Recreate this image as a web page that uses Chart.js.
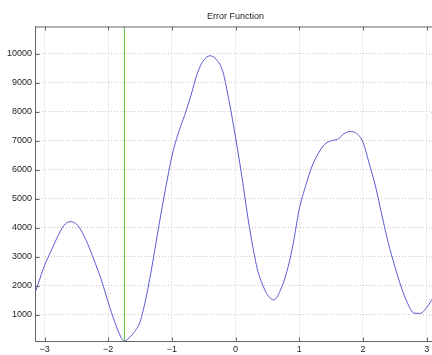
<!DOCTYPE html>
<html>
<head>
<meta charset="utf-8">
<script src="https://cdn.jsdelivr.net/npm/chart.js@4"></script>
<style>
  html, body { margin: 0; padding: 0; background: #fff; overflow: hidden; }
  #wrap { width: 432px; height: 355px; overflow: hidden; position: relative; }
  canvas { position: absolute; left: 0; top: 0; }
</style>
</head>
<body>
<div id="wrap"><canvas id="c" width="440" height="355"></canvas></div>
<script>
// ---- data ----
const xValues = [-3.1416, -3.1, -3.0, -2.9, -2.8, -2.7, -2.6, -2.5, -2.4, -2.3, -2.2, -2.1, -2.0, -1.9, -1.8, -1.75, -1.7, -1.6, -1.5, -1.4, -1.3, -1.2, -1.1, -1.0, -0.9, -0.8, -0.7, -0.6, -0.5, -0.4, -0.3, -0.2, -0.1, 0.0, 0.1, 0.2, 0.3, 0.35, 0.4, 0.45, 0.5, 0.6, 0.7, 0.8, 0.9, 1.0, 1.1, 1.2, 1.3, 1.4, 1.5, 1.6, 1.7, 1.8, 1.9, 2.0, 2.1, 2.2, 2.3, 2.4, 2.5, 2.6, 2.7, 2.8, 2.9, 3.0, 3.1, 3.1416];
const errorValues = [1800, 2070, 2700, 3190, 3670, 4070, 4210, 4130, 3810, 3330, 2760, 2150, 1430, 770, 230, 95, 150, 380, 760, 1650, 2830, 4130, 5350, 6470, 7260, 7880, 8570, 9330, 9780, 9930, 9800, 9380, 8350, 7100, 5750, 4250, 3000, 2500, 2170, 1900, 1690, 1510, 1830, 2450, 3400, 4650, 5450, 6120, 6570, 6880, 7000, 7050, 7240, 7320, 7250, 6950, 6200, 5400, 4400, 3460, 2670, 1960, 1400, 1060, 1050, 1250, 1580, 1700];
const markerX = -1.745;
const xTickValues = [-3, -2, -1, 0, 1, 2, 3];
const yTickValues = [1000, 2000, 3000, 4000, 5000, 6000, 7000, 8000, 9000, 10000];
const xRange = [-Math.PI, Math.PI];
const yRange = [80, 10940];
const chartTitle = 'Error Function';

const curve = xValues.map((x, i) => ({ x: x, y: errorValues[i] }));
const marker = [{ x: markerX, y: yRange[0] }, { x: markerX, y: yRange[1] }];

const FONT = { family: '"Liberation Sans", Arial, Helvetica, sans-serif', size: 9 };
const AXIS_COLOR = '#666666';

// frame: top border and inward tick marks, as MATLAB draws them
const framePlugin = {
  id: 'frame',
  afterDraw(chart) {
    const { ctx, chartArea: a, scales } = chart;
    ctx.save();
    ctx.strokeStyle = AXIS_COLOR;
    ctx.lineWidth = 1;
    ctx.beginPath();
    ctx.moveTo(a.left, a.top + 0.5);
    ctx.lineTo(a.right, a.top + 0.5);
    ctx.moveTo(a.right - 0.5, a.top);
    ctx.lineTo(a.right - 0.5, a.bottom);
    const tl = 4;
    scales.x.ticks.forEach(t => {
      const px = Math.round(scales.x.getPixelForValue(t.value)) + 0.5;
      ctx.moveTo(px, a.bottom); ctx.lineTo(px, a.bottom - tl);
      ctx.moveTo(px, a.top); ctx.lineTo(px, a.top + tl);
    });
    scales.y.ticks.forEach(t => {
      const py = Math.round(scales.y.getPixelForValue(t.value)) + 0.5;
      ctx.moveTo(a.left, py); ctx.lineTo(a.left + tl, py);
      ctx.moveTo(a.right, py); ctx.lineTo(a.right - tl, py);
    });
    ctx.stroke();
    ctx.restore();
  }
};

new Chart(document.getElementById('c'), {
  type: 'line',
  data: {
    datasets: [
      {
        data: curve,
        borderColor: '#5a5ad2',
        borderWidth: 1,
        pointRadius: 0,
        fill: false,
        cubicInterpolationMode: 'monotone'
      },
      {
        data: marker,
        borderColor: '#62c23c',
        borderWidth: 1,
        pointRadius: 0,
        fill: false
      }
    ]
  },
  options: {
    responsive: false,
    animation: false,
    devicePixelRatio: 1,
    layout: { padding: { left: 0, right: 4.3, top: 0, bottom: 0 } },
    plugins: {
      legend: { display: false },
      tooltip: { enabled: false },
      title: {
        display: true,
        text: chartTitle,
        fullSize: false,
        color: '#222',
        font: { family: FONT.family, size: 9, weight: 'normal' },
        padding: { top: 11.1, bottom: 4.6 }
      }
    },
    scales: {
      x: {
        type: 'linear',
        min: xRange[0],
        max: xRange[1],
        afterFit(s) { s.height = 13.5; },
        afterBuildTicks(s) { s.ticks = xTickValues.map(v => ({ value: v })); },
        ticks: {
          includeBounds: false,
          stepSize: 1,
          padding: 3,
          color: '#222',
          font: FONT,
          maxRotation: 0,
          autoSkip: false,
          callback: v => (v < 0 ? '\u2212' + Math.abs(v) : String(v))
        },
        grid: { color: '#c8c8c8', drawTicks: false, lineWidth: 1 },
        border: { display: true, color: AXIS_COLOR, width: 1, dash: [1, 2] }
      },
      y: {
        type: 'linear',
        min: yRange[0],
        max: yRange[1],
        afterFit(s) { s.width = 35.5; },
        afterBuildTicks(s) { s.ticks = yTickValues.map(v => ({ value: v })); },
        ticks: {
          includeBounds: false,
          stepSize: 1000,
          padding: 3.5,
          color: '#222',
          font: FONT,
          autoSkip: false,
          callback: v => String(v)
        },
        grid: { color: '#c8c8c8', drawTicks: false, lineWidth: 1 },
        border: { display: true, color: AXIS_COLOR, width: 1, dash: [1, 2] }
      }
    }
  },
  plugins: [framePlugin]
});
</script>
</body>
</html>
